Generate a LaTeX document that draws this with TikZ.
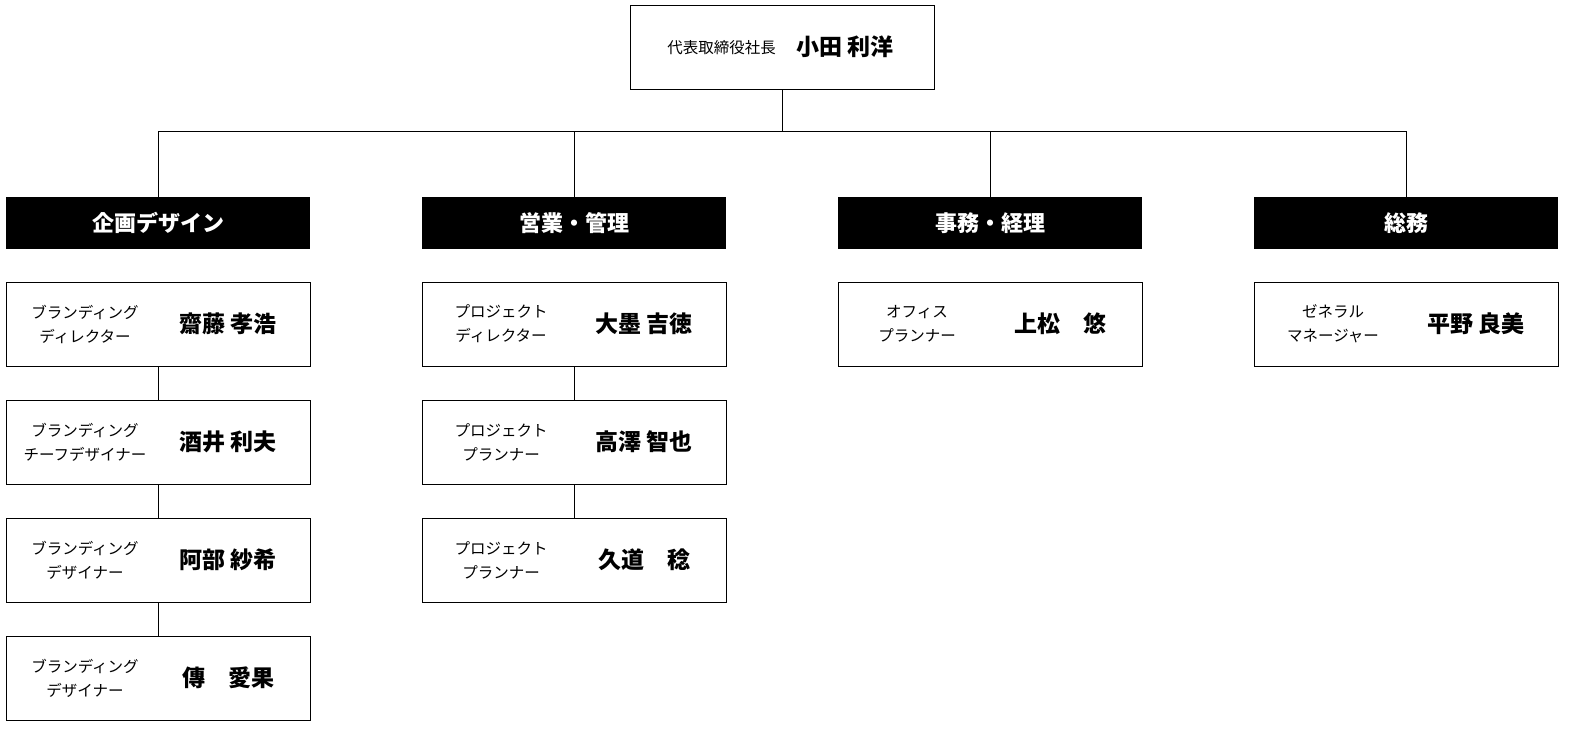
\documentclass[tikz,border=0pt]{standalone}
\usepackage{fontspec}
\setmainfont{Noto Sans CJK JP}
\newfontfamily\jpbold[BoldFont={* Bold}]{Noto Sans CJK JP}
\begin{document}
\begin{tikzpicture}[x=1pt,y=-1pt,
  box/.style={draw,line width=0.8pt,minimum width=304pt,minimum height=84pt,inner sep=0pt},
  head/.style={fill=black,text=white,minimum width=304pt,minimum height=52pt,inner sep=0pt,font=\fontsize{22}{26}\selectfont\bfseries},
  role/.style={font=\fontsize{15.5}{24}\selectfont,align=center,inner sep=0pt},
  pname/.style={font=\fontsize{23}{28}\selectfont\bfseries,inner sep=0pt},
  line/.style={line width=0.8pt}]
\useasboundingbox (0,0) rectangle (1584,731);
\node[box] (top) at (782,47) {};
\node[role,anchor=east] (tr) at (776,48) {代表取締役社長};
\node[pname,anchor=west] (tn) at (796,47) {小田 利洋};
\coordinate (hub) at (782,131);
\foreach \x/\t/\n in {158/企画デザイン/h1,574/営業・管理/h2,990/事務・経理/h3,1406/総務/h4}{
  \node[head] (\n) at (\x,223) {\t};
  \coordinate (\n t) at (\x,131);
}
\draw[line] (top.south) -- (hub);
\draw[line] (h1t) -- (h4t);
\foreach \n in {h1,h2,h3,h4}{\draw[line] (\n t) -- (\n.north);}
% members
\newcommand\member[5]{%
  \node[box] (#1) at (#2,#3) {};
  \node[role] (#1r) at (#2-73,#3) {#4};
  \node[pname] (#1n) at (#2+70,#3) {#5};}
\member{a1}{158}{324}{ブランディング\\ディレクター}{齋藤 孝浩}
\member{a2}{158}{442}{ブランディング\\チーフデザイナー}{酒井 利夫}
\member{a3}{158}{560}{ブランディング\\デザイナー}{阿部 紗希}
\member{a4}{158}{678}{ブランディング\\デザイナー}{傳　愛果}
\member{b1}{574}{324}{プロジェクト\\ディレクター}{大墨 吉徳}
\member{b2}{574}{442}{プロジェクト\\プランナー}{高澤 智也}
\member{b3}{574}{560}{プロジェクト\\プランナー}{久道　稔}
\member{c1}{990}{324}{オフィス\\プランナー}{上松　悠}
\member{d1}{1406}{324}{ゼネラル\\マネージャー}{平野 良美}
\draw[line] (a1.south) -- (a2.north);
\draw[line] (a2.south) -- (a3.north);
\draw[line] (a3.south) -- (a4.north);
\draw[line] (b1.south) -- (b2.north);
\draw[line] (b2.south) -- (b3.north);
\end{tikzpicture}
\end{document}
